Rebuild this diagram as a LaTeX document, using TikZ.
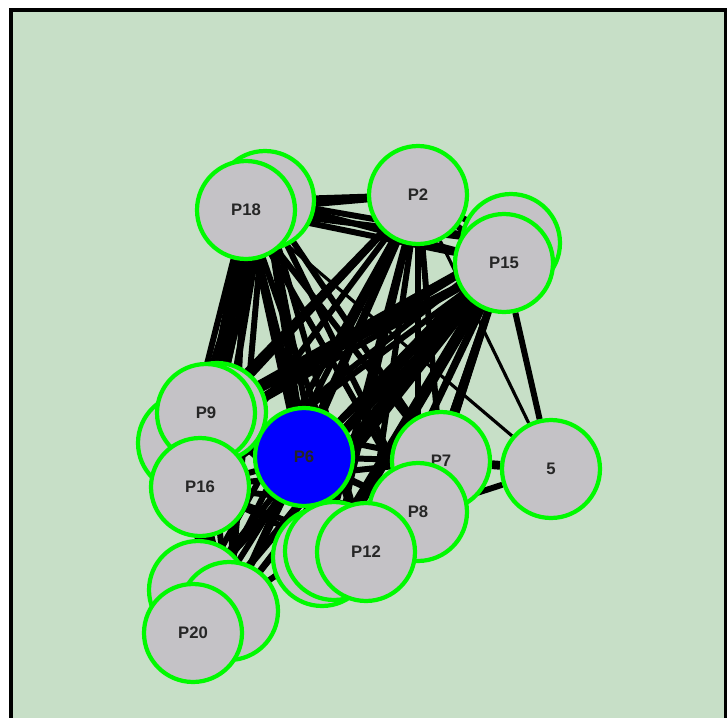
\documentclass[tikz,border=0pt]{standalone}
\usepackage{fontspec}
\setmainfont{Liberation Sans}
\usetikzlibrary{calc}
\definecolor{panel}{RGB}{199,223,199}
\definecolor{peer}{RGB}{196,194,198}
\definecolor{ring}{RGB}{0,250,0}
\pgfdeclarelayer{frame}
\pgfdeclarelayer{edges}
\pgfsetlayers{frame,edges,main}

\begin{document}
\begin{tikzpicture}[
    x=0.02cm, y=-0.02cm,
    every node/.style={font=\fontsize{9.5}{10}\selectfont\bfseries, text=black!85},
    peernode/.style={circle, draw=ring, line width=2.4pt, fill=peer,
                     minimum size=1.96cm, inner sep=0pt},
    selnode/.style={peernode, fill=blue},
    link/.style={line width=3.4pt, black},
    thinlink/.style={line width=1.8pt, black},
  ]

  \useasboundingbox (0,0) rectangle (727,717);
  \begin{pgfonlayer}{frame}
    \fill[panel] (11,10) rectangle (726,730);
    \draw[line width=1.8pt] (11,730) -- (11,10) -- (726,10) -- (726,730);
  \end{pgfonlayer}

  % hidden peers
  \node[peernode] (p18b) at (265,200) {};
  \node[peernode] (p15b) at (511,243) {};
  \node[peernode] (p9c) at (187,443) {};
  \node[peernode] (p9b) at (217,412) {};
  \node[peernode] (p12c) at (322,557) {};
  \node[peernode] (p12b) at (334,551) {};
  \node[peernode] (p20b) at (198,590) {};
  \node[peernode] (p20c) at (229,611) {};

  % labelled peers
  \node[peernode] (p18) at (246,210) {P18};
  \node[peernode] (p2) at (418,195) {P2};
  \node[peernode] (p15) at (504,263) {P15};
  \node[peernode] (p9) at (206,413) {P9};
  \node[peernode] (p16) at (200,487) {P16};
  \node[selnode] (p6) at (304,457) {P6};
  \node[peernode] (n5) at (551,469) {5};
  \node[peernode] (p7) at (441,461) {P7};
  \node[peernode] (p8) at (418,512) {P8};
  \node[peernode] (p12) at (366,552) {P12};
  \node[peernode] (p20) at (193,633) {P20};

  \begin{pgfonlayer}{edges}
    \foreach \a/\rest in {p18/{p18b,p2,p15,p15b,p9,p9b,p9c,p16,p6,p7,p8,p12,p12b,p12c,p20,p20b,p20c},
        p18b/{p2,p15,p15b,p9,p9b,p9c,p16,p6,p7,p8,p12,p12b,p12c,p20,p20b,p20c},
        p2/{p15,p15b,p9,p9b,p9c,p16,p6,p7,p8,p12,p12b,p12c,p20,p20b,p20c},
        p15/{p15b,p9,p9b,p9c,p16,p6,p7,p8,p12,p12b,p12c,p20,p20b,p20c},
        p15b/{p9,p9b,p9c,p16,p6,p7,p8,p12,p12b,p12c,p20,p20b,p20c},
        p9/{p16,p6,p7,p8,p12,p20,p20b,p20c},
        p16/{p6,p7,p8,p12,p12b,p20,p20b,p20c},
        p6/{p7,p8,p12,p12b,p12c,p20,p20b,p20c},
        p7/{p8,p12,p12b,p20}}
      \foreach \b in \rest
        \draw[link] (\a.center) -- (\b.center);
    \draw[link] (p15) -- (n5);
    \draw[line width=5pt] (p7) -- (n5);
    \draw[link] (p8) -- (n5);
    \draw[thinlink] (p2) -- (n5);
    \draw[thinlink] (p18) -- (n5);
  \end{pgfonlayer}
\end{tikzpicture}
\end{document}
